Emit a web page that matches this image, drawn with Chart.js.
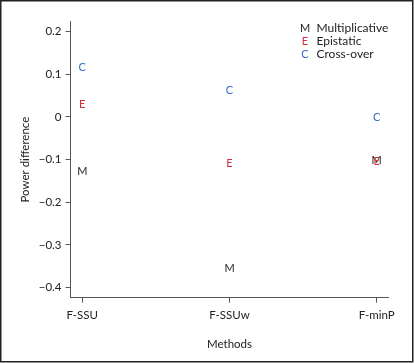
<!DOCTYPE html>
<html><head><meta charset="utf-8">
<script src="https://cdn.jsdelivr.net/npm/chart.js@4.4.3/dist/chart.umd.min.js"></script>
<style>
  html,body{margin:0;padding:0;background:#fff}
  #wrap{width:414px;height:363px}
</style>
</head><body>
<div id="wrap"><canvas id="c" width="414" height="363"></canvas></div>
<script>
const methods = ['F-SSU', 'F-SSUw', 'F-minP']
const methodPos = [1, 2, 3]
const multiplicative = [-0.127, -0.354, -0.100]
const epistatic = [0.030, -0.109, -0.104]
const crossOver = [0.117, 0.064, 0.000]
const yTicks = [-0.4, -0.3, -0.2, -0.1, 0, 0.1, 0.2]

const FONT = 'Lato, "Open Sans", sans-serif'
const AXIS = '#555'
const TXT = '#222'

const toPts = vals => vals.map((v, i) => ({ x: methodPos[i], y: v }))

const series = [
  { label: 'Multiplicative', letter: 'M', color: '#1e1e1e', data: multiplicative },
  { label: 'Epistatic', letter: 'E', color: '#d3303b', data: epistatic },
  { label: 'Cross-over', letter: 'C', color: '#3a6cc8', data: crossOver },
]

const datasets = series.map(s => ({
  label: s.label,
  data: toPts(s.data),
  pointRadius: 0,
  pointHoverRadius: 0,
  showLine: false,
  letter: s.letter,
  letterColor: s.color,
}))

// draws each point as its letter, at the position the scales give
const letterPoints = {
  id: 'letterPoints',
  afterDatasetsDraw(chart) {
    const ctx = chart.ctx
    ctx.save()
    ctx.font = '11px ' + FONT
    ctx.textAlign = 'center'
    ctx.textBaseline = 'middle'
    chart.data.datasets.forEach((ds, i) => {
      ctx.fillStyle = ds.letterColor
      chart.getDatasetMeta(i).data.forEach(pt => {
        ctx.fillText(ds.letter, pt.x, pt.y + 0.5)
      })
    })
    ctx.restore()
  }
}

const letterLegend = {
  id: 'letterLegend',
  afterDraw(chart) {
    const ctx = chart.ctx
    ctx.save()
    ctx.textBaseline = 'middle'
    chart.data.datasets.forEach((ds, i) => {
      const y = 28 + i * 13
      ctx.font = '11px ' + FONT
      ctx.textAlign = 'center'
      ctx.fillStyle = ds.letterColor
      ctx.fillText(ds.letter, 305, y + 0.5)
      ctx.font = '12px ' + FONT
      ctx.textAlign = 'left'
      ctx.fillStyle = TXT
      ctx.fillText(ds.label, 316.5, y + 0.5)
    })
    ctx.restore()
  }
}

const framePlugin = {
  id: 'frame',
  afterDraw(chart) {
    const ctx = chart.ctx
    ctx.save()
    ctx.strokeStyle = '#222'
    ctx.lineWidth = 1.5
    ctx.strokeRect(0.75, 0.75, 412, 361)
    ctx.restore()
  }
}

new Chart(document.getElementById('c'), {
  type: 'scatter',
  data: { datasets },
  options: {
    responsive: false,
    animation: false,
    events: [],
    layout: { padding: { top: 21.5, right: 25.5, bottom: 0, left: 0 } },
    plugins: { legend: { display: false }, tooltip: { enabled: false } },
    scales: {
      x: {
        type: 'linear',
        min: 0.92, max: 3.08,
        afterBuildTicks: s => { s.ticks = methodPos.map(v => ({ value: v })) },
        afterFit: s => { s.height = 65.3 },
        ticks: {
          callback: v => methods[methodPos.indexOf(v)] || '',
          color: TXT, font: { family: FONT, size: 11.5 }, padding: 6, maxRotation: 0,
        },
        grid: { drawOnChartArea: false, drawTicks: true, tickLength: 5, color: AXIS },
        border: { color: AXIS, width: 1 },
        title: { display: true, text: 'Methods', color: TXT, font: { family: FONT, size: 11.5 }, padding: { top: 0, bottom: 11.4 } },
      },
      y: {
        min: -0.424, max: 0.224,
        afterBuildTicks: s => { s.ticks = yTicks.map(v => ({ value: v })) },
        afterFit: s => { s.width = 70.5 },
        ticks: {
          callback: v => v === 0 ? '0' : String(Math.round(v * 10) / 10).replace('-', '\u2212'),
          color: TXT, font: { family: FONT, size: 11.5 }, padding: 4,
        },
        grid: { drawOnChartArea: false, drawTicks: true, tickLength: 5, color: AXIS },
        border: { color: AXIS, width: 1 },
        title: { display: true, text: 'Power difference', color: TXT, font: { family: FONT, size: 11.5 }, padding: { top: 18, bottom: 0 } },
      },
    },
  },
  plugins: [letterPoints, letterLegend, framePlugin],
})
</script>
</body></html>
